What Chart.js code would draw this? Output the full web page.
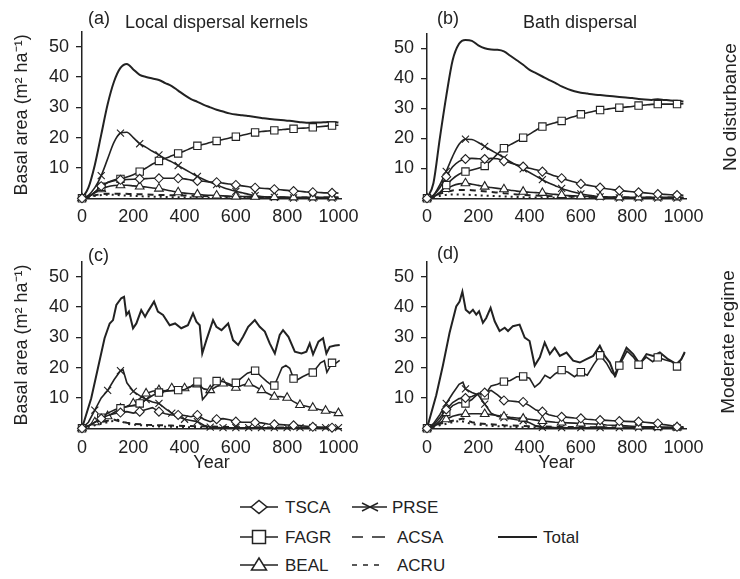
<!DOCTYPE html>
<html><head><meta charset="utf-8">
<script src="https://cdn.jsdelivr.net/npm/chart.js"></script>
<style>
html,body{margin:0;padding:0;background:#fff;}
#wrap{position:relative;width:740px;height:579px;overflow:hidden;font-family:"Liberation Sans",Arial,Helvetica,sans-serif;color:#222;}
canvas{position:absolute;}
.lbl{position:absolute;font-size:18px;line-height:18px;white-space:nowrap;}
.side{position:absolute;font-size:19px;line-height:19px;white-space:nowrap;transform:translate(-50%,-50%) rotate(-90deg);}
</style></head>
<body><div id="wrap">
<canvas id="pa" width="370" height="235" style="left:0;top:0"></canvas>
<canvas id="pb" width="370" height="235" style="left:370px;top:0"></canvas>
<canvas id="pc" width="370" height="245" style="left:0;top:235px"></canvas>
<canvas id="pd" width="370" height="245" style="left:370px;top:235px"></canvas>
<div class="lbl" style="left:88px;top:9px">(a)</div>
<div class="lbl" style="left:125px;top:13px">Local dispersal kernels</div>
<div class="lbl" style="left:437px;top:9px">(b)</div>
<div class="lbl" style="left:523px;top:13px">Bath dispersal</div>
<div class="lbl" style="left:88px;top:246px">(c)</div>
<div class="lbl" style="left:437px;top:244px">(d)</div>
<div class="side" style="left:729px;top:107px">No disturbance</div>
<div class="side" style="left:727px;top:342px">Moderate regime</div>
<svg width="740" height="99" style="position:absolute;left:0;top:480px" font-family="Liberation Sans, Arial, sans-serif" font-size="17" fill="#222">
 <g stroke="#222" stroke-width="1.5" fill="none">
  <line x1="240" y1="27" x2="278" y2="27"/>
  <polygon points="251,27 259,20.5 267,27 259,33.5" fill="#fff"/>
  <line x1="240" y1="57" x2="278" y2="57"/>
  <rect x="252.5" y="50.5" width="13" height="13" fill="#fff"/>
  <line x1="240" y1="85" x2="278" y2="85"/>
  <polygon points="251.5,90 259,78 266.5,90" fill="#fff"/>
  <line x1="352" y1="27" x2="387" y2="27"/>
  <line x1="362" y1="23" x2="378" y2="31"/>
  <line x1="362" y1="31" x2="378" y2="23"/>
  <line x1="352" y1="57" x2="363" y2="57"/>
  <line x1="372" y1="57" x2="385" y2="57"/>
  <line x1="352" y1="85" x2="357" y2="85"/>
  <line x1="363" y1="85" x2="368" y2="85"/>
  <line x1="374" y1="85" x2="379" y2="85"/>
  <line x1="498" y1="57" x2="537" y2="57" stroke-width="2"/>
 </g>
 <text x="285" y="33">TSCA</text>
 <text x="285" y="63">FAGR</text>
 <text x="285" y="91">BEAL</text>
 <text x="392" y="33">PRSE</text>
 <text x="397" y="63">ACSA</text>
 <text x="397" y="91">ACRU</text>
 <text x="543" y="63">Total</text>
</svg>
</div>
<script>
// ---------- DATA ----------
const X_TICKS = [0, 200, 400, 600, 800, 1000];
const Y_TICKS = [10, 20, 30, 40, 50];
const YEARS_25 = [0,25,50,75,100,125,150,175,200,225,250,275,300,325,350,375,400,425,450,475,500,525,550,575,600,625,650,675,700,725,750,775,800,825,850,875,900,925,950,975,1000];
const YEARS_50 = [0,50,100,150,200,250,300,350,400,450,500,550,600,650,700,750,800,850,900,950,1000];

// (a) Local dispersal kernels, no disturbance
const totalA = [0,3.5,11,21,31,38.5,43,44.3,42.5,40.7,40,39.5,39,38,37,35.5,34,32.7,31.8,30.8,30,29.2,28.6,28,27.6,27.4,27.1,26.8,26.5,26.2,26,25.8,25.6,25.4,25.1,24.9,25,25,25.1,25.2,25];
const fagrA = [0,0.5,2,3.8,5.2,6,6.4,7,7.8,8.8,10,11.3,12.3,13.2,14,14.8,15.6,16.5,17.3,17.8,18.4,18.9,19.4,19.9,20.3,20.8,21.3,21.7,22,22.2,22.4,22.6,22.8,22.9,23.1,23.2,23.4,23.6,23.8,24,24.1];
const prseA = [0,1,3.5,7.5,13,18.5,21.5,21.8,20,18,16.8,15.5,14.3,13,12,10.8,9.6,8.4,7.2,6.2,5.3,4.5,3.6,2.9,2.3,1.8,1.3,0.9,0.6,0.4,0.3,0.2,0.2,0.1,0.1,0.1,0.1,0.1,0.1,0.1,0.1];
const tscaA = [0,0.5,2,4,5.2,5.8,6.1,6.2,6.3,6.4,6.5,6.6,6.6,6.6,6.6,6.6,6.4,6,5.7,5.6,5.4,5.3,5,4.7,4.4,4.1,3.8,3.5,3.3,3.2,3,2.8,2.6,2.4,2.3,2.1,2,1.9,1.8,1.8,1.7];
const bealA = [0,0.5,1.8,3,3.8,4.2,4.3,4.3,4.1,3.9,3.7,3.4,3.2,2.8,2.4,2,1.7,1.5,1.3,1.1,1,0.9,0.8,0.7,0.6,0.6,0.5,0.5,0.5,0.4,0.4,0.4,0.4,0.3,0.3,0.3,0.3,0.3,0.3,0.3,0.3];
const acsaA = [0,1,1.5,1.5,1.4,1.3,1.1,1,0.9,0.8,0.7,0.6,0.5,0.5,0.4,0.4,0.3,0.3,0.3,0.3,0.3];
const acruA = [0,0.8,1.2,1,0.8,0.6,0.5,0.4,0.3,0.25,0.2,0.15,0.1,0.1,0.1,0.1,0.1,0.1,0.1,0.1,0.1];

// (b) Bath dispersal, no disturbance
const totalB = [0,5,20,34,46,51.5,52.8,52.5,51,50,49.6,49.5,49,47.5,46,44.5,42.8,41.7,40.6,39.5,38.5,37.3,36.4,35.7,35.2,34.9,34.6,34.4,34.2,34,33.8,33.6,33.4,33.1,32.9,32.8,33,32.8,32.6,32.5,32.3];
const fagrB = [0,0.5,2,4.4,6.5,8,8.9,9.4,10,10.8,12.6,14.8,16.7,17.9,19,20.2,21.4,22.7,23.9,24.6,25.2,25.8,26.6,27.3,28,28.5,29,29.4,29.7,30,30.2,30.4,30.6,30.9,31.1,31.3,31.4,31.4,31.4,31.4,31.5];
const prseB = [0,1,4.5,9,14,18,19.7,19.6,18.6,17.3,16,14.8,13.5,12.2,11,9.8,8.6,7.4,6.2,5.1,4.2,3.3,2.6,2,1.5,1.1,0.8,0.5,0.3,0.2,0.1,0.1,0.1,0.1,0.1,0.1,0.1,0.1,0.1,0.1,0.1];
const tscaB = [0,1,3.5,7.2,10.5,12.3,13.1,13.3,13.2,13.1,13.3,13.2,12.4,11.8,11.2,10.6,10,9.5,8.9,8.2,7.4,6.7,6,5.4,4.8,4.4,4,3.6,3.2,2.9,2.6,2.4,2.2,2,1.8,1.6,1.4,1.3,1.2,1.1,1];
const bealB = [0,0.5,1.8,3.1,4.2,4.8,5,4.7,4.3,3.9,3.6,3.3,3,2.7,2.4,2.2,2,1.9,1.8,1.5,1.3,1.1,0.9,0.8,0.7,0.6,0.5,0.5,0.4,0.4,0.3,0.3,0.3,0.3,0.3,0.3,0.3,0.3,0.3,0.3,0.3];
const acsaB = [0,1.5,2.6,2.8,2.5,2.1,1.7,1.3,1,0.8,0.7,0.6,0.5,0.45,0.4,0.35,0.3,0.3,0.3,0.25,0.2];
const acruB = [0,0.8,1.3,1.2,1,0.8,0.6,0.45,0.3,0.25,0.2,0.15,0.15,0.1,0.1,0.1,0.1,0.1,0.1,0.1,0.1];

// (c) Local dispersal kernels, moderate regime
const totalC_years = [0,36,62,88,108,121,134,153,164,173,183,199,212,231,246,257,281,296,316,342,363,387,413,433,446,459,469,485,511,524,544,570,589,609,628,648,674,693,713,732,752,771,784,805,830,856,875,888,901,922,940,953,966,987,1005];
const totalC = [0,9.9,19.8,29.7,34.6,35.7,40.7,42.9,43.4,37.4,38.5,33,34.6,39,36.8,38.5,41.8,38.5,37.4,34,34.6,33,34,37.9,35.2,34,24.7,29.1,35.7,33.5,32.4,34.6,29.1,27.5,30.2,33.5,35.7,33.5,31.9,28,24.7,30.8,32.4,30.2,25.3,24.7,25.3,28,24.4,28.6,29.7,24.7,26.9,27.3,27.5];
const fagrC_years = [0,30,60,75,100,130,150,180,210,225,250,275,300,330,360,375,400,420,440,450,462,470,485,505,525,545,570,585,600,620,645,675,700,720,735,750,765,780,795,810,825,840,860,880,900,915,930,945,955,965,975,990,1005];
const fagrC = [0,1,2.5,3.5,5,6.2,6.6,7.2,7.8,8.2,9.5,10.8,11.8,12.2,12.5,12.6,12.8,13.5,14.8,15.4,14.5,9.5,11,13.5,15.6,15.5,14.8,14.2,15,16.5,18.2,19,17,15.5,14.5,14.1,17,20,20.7,19.8,16.4,16,17,17.8,18.4,20,21.6,22.3,18.5,20,21.6,21.5,22.4];
const bealC = [0,0.8,2,3,4,5.2,6.5,7.3,8.2,9.8,11.5,12.2,12.6,12.4,13.2,12.9,13.2,13.8,14.5,13,12.6,13.8,14.8,14.2,13.4,14.2,14.8,13.8,12.6,11.5,10.4,10.5,10.1,8.8,7.7,7.3,6.8,6.2,5.8,5.3,5];
const prseC_years = [0,25,50,75,100,125,150,160,175,200,225,250,275,300,325,350,375,400,425,450,475,500,525,550,600,650,700,750,800,850,900,950,1000];
const prseC = [0,2,6,10,12.5,16,19,19.3,15,12.2,10.8,9.5,8.7,8.2,6.5,5,3.8,3,2.6,2.2,1,0.4,0.2,0.2,0.2,0.2,0.2,0.2,0.2,0.2,0.2,0.2,0.2];
const tscaC = [0,0.8,2,3.2,4.2,4.8,5.2,5.5,5,5.5,6.2,6.8,5.5,4.8,4.4,4.4,4.2,3.8,4.4,3,2.2,3,3.2,2.8,2.2,2,2,1.9,1.8,1.4,1.3,1.2,1.1,1,0.9,0.7,0.5,0.4,0.3,0.2,0.2];
const acsaC_years = [0,50,100,120,150,175,200,250,300,350,400,450,500,600,700,800,900,1000];
const acsaC = [0,1.5,2.5,3,2.2,1.8,1.5,1.2,1,0.9,0.8,0.7,0.6,0.4,0.3,0.3,0.2,0.2];
const acruC_years = [0,50,100,140,175,200,300,400,500,600,800,1000];
const acruC = [0,1,2,2.8,1.5,1.2,0.6,0.4,0.2,0.1,0.1,0.1];

// (d) Bath dispersal, moderate regime
const totalD_years = [0,36,62,88,114,127,138,151,166,179,192,203,218,231,248,264,283,303,316,335,361,381,400,420,440,459,479,498,518,544,570,596,622,648,674,693,713,732,752,778,804,830,856,882,908,940,973,992,1005];
const totalD = [0,10.9,20.7,31.5,40.2,41.8,45.1,39.1,38,39.1,37.5,38.6,34.8,36.4,39.7,35.3,32.1,33.2,32.1,33.7,34.2,29.9,28.8,20.7,23.4,28.3,24.5,26.6,23.9,25,22.3,21.7,22.8,23.9,27.2,23.9,21.7,17.4,21.7,26.6,24.5,21.2,24.5,23.9,25,22.8,21.2,22.8,25.2];
const fagrD_years = [0,25,50,75,100,125,150,175,200,225,250,275,300,325,350,375,400,420,440,460,480,500,525,550,575,600,625,650,675,700,720,735,750,780,805,825,855,880,900,930,955,975,1005];
const fagrD = [0,0.5,2.5,5.4,7.5,8.5,8.2,9.5,11.5,10.9,14,14.5,15.4,15.8,17,17.1,16.5,13.6,15,17.5,16.5,18,19.2,18.5,17,18.5,17.5,21,24.1,21.5,18.5,17.2,20.7,25.5,23.5,21,23.5,22,23.4,22.5,22,20.4,24.8];
const tscaD = [0,1,3.5,6.2,8.5,9.8,10,10.5,11.5,11.8,12.5,11,9.2,9,8.8,8.7,7.5,6,5.5,4.5,4,3.8,3.6,3.4,3.3,3,2.8,2.7,2.6,2.5,2.4,2.3,2.2,2.2,2,1.8,1.6,1.2,0.9,0.5,0.5];
const prseD_years = [0,25,50,75,100,125,140,150,175,200,225,250,275,300,325,350,375,400,425,450,525,600,675,750,825,900,975,1000];
const prseD = [0,1.5,4.5,8.2,11.5,14.5,15.2,13,11.8,11,8,5,4,3.5,3.2,2.8,2.5,1.8,0.8,0.3,0.2,0.2,0.2,0.2,0.2,0.2,0.2,0.2];
const bealD = [0,0.5,1.8,3,4,4.5,4.7,4.8,4.8,4.7,4.5,4.2,3.9,3.6,3.4,3.2,3,2.7,2.4,2.2,2,1.9,1.8,1.7,1.6,1.5,1.4,1.3,1.1,1,0.9,0.8,0.7,0.6,0.5,0.5,0.4,0.4,0.3,0.3,0.3];
const acsaD_years = [0,50,100,140,175,200,300,400,500,700,1000];
const acsaD = [0,1.5,2.5,3.2,2,1.6,1,0.7,0.5,0.3,0.2];
const acruD_years = [0,50,100,130,175,250,350,500,1000];
const acruD = [0,1,2,2.5,1.4,0.8,0.4,0.2,0.1];

// ---------- STYLE ----------
const INK = '#222';
Chart.defaults.font.family = '"Liberation Sans", Arial, Helvetica, sans-serif';
Chart.defaults.font.size = 18;
Chart.defaults.color = INK;
const MARK = {
  TSCA: {pointStyle: 'rectRot', r: 4.5},
  FAGR: {pointStyle: 'rect', r: 5.2},
  BEAL: {pointStyle: 'triangle', r: 5},
  PRSE: {pointStyle: 'crossRot', r: 5}
};
function xy(years, vals) { return years.map((x, i) => ({x: x, y: vals[i]})); }
function marked(label, years, vals, every, smooth) {
  const m = MARK[label];
  return {
    label, data: xy(years, vals), borderColor: INK, borderWidth: 1.6,
    pointStyle: m.pointStyle,
    pointRadius: c => (c.raw && c.raw.x % every === 0) ? m.r : 0,
    pointHoverRadius: 0,
    pointBackgroundColor: '#fff', pointBorderColor: INK, pointBorderWidth: 1.1,
    cubicInterpolationMode: smooth ? 'monotone' : 'default', tension: 0, clip: false
  };
}
function plain(label, years, vals, dash, width, smooth) {
  return {
    label, data: xy(years, vals), borderColor: INK, borderWidth: width,
    borderDash: dash, pointRadius: 0, pointHoverRadius: 0,
    cubicInterpolationMode: smooth ? 'monotone' : 'default', tension: 0, clip: false
  };
}
function panel(id, datasets, o) {
  new Chart(document.getElementById(id), {
    type: 'line',
    data: {datasets},
    options: {
      responsive: false, animation: false, devicePixelRatio: 1,
      layout: {padding: {left: 0, right: o.right, top: o.top, bottom: 0}},
      plugins: {legend: {display: false}, tooltip: {enabled: false}},
      scales: {
        x: {
          type: 'linear', min: 0, max: 1010,
          afterBuildTicks: s => { s.ticks = X_TICKS.map(v => ({value: v})); },
          afterFit: s => { s.height = o.xh; },
          grid: {display: false, drawTicks: false},
          border: {display: true, color: INK, width: 1.5},
          ticks: {padding: o.xpad, autoSkip: false, maxRotation: 0, callback: v => String(v)},
          title: {display: o.year, text: 'Year', padding: {top: 0, bottom: 6}}
        },
        y: {
          min: 0, max: 55,
          afterBuildTicks: s => { s.ticks = Y_TICKS.map(v => ({value: v})); },
          afterFit: s => { s.width = o.yw; },
          grid: {drawOnChartArea: false, drawTicks: true, tickLength: 6, color: INK, lineWidth: 1.3},
          border: {display: true, color: INK, width: 1.5},
          ticks: {padding: 7, callback: v => String(v)},
          title: {display: o.ytitle, text: 'Basal area (m² ha⁻¹)', padding: {top: 11, bottom: 0}}
        }
      }
    }
  });
}

panel('pa', [
  marked('TSCA', YEARS_25, tscaA, 75, true),
  marked('FAGR', YEARS_25, fagrA, 75, true),
  marked('BEAL', YEARS_25, bealA, 75, true),
  marked('PRSE', YEARS_25, prseA, 75, true),
  plain('ACSA', YEARS_50, acsaA, [6, 5], 2, true),
  plain('ACRU', YEARS_50, acruA, [2, 4], 2, true),
  plain('Total', YEARS_25, totalA, [], 2, true)
], {right: 29, top: 31.5, xh: 36.7, yw: 82, xpad: 8, year: false, ytitle: true});

panel('pb', [
  marked('TSCA', YEARS_25, tscaB, 75, true),
  marked('FAGR', YEARS_25, fagrB, 75, true),
  marked('BEAL', YEARS_25, bealB, 75, true),
  marked('PRSE', YEARS_25, prseB, 75, true),
  plain('ACSA', YEARS_50, acsaB, [6, 5], 2, true),
  plain('ACRU', YEARS_50, acruB, [2, 4], 2, true),
  plain('Total', YEARS_25, totalB, [], 2, true)
], {right: 54, top: 33.3, xh: 36.7, yw: 57, xpad: 8, year: false, ytitle: false});

panel('pc', [
  marked('TSCA', YEARS_25, tscaC, 75, false),
  marked('FAGR', fagrC_years, fagrC, 75, false),
  marked('BEAL', YEARS_25, bealC, 50, false),
  marked('PRSE', prseC_years, prseC, 50, false),
  plain('ACSA', acsaC_years, acsaC, [6, 5], 2, false),
  plain('ACRU', acruC_years, acruC, [2, 4], 2, false),
  plain('Total', totalC_years, totalC, [], 2, false)
], {right: 29, top: 26.6, xh: 51.7, yw: 82, xpad: 9, year: true, ytitle: true});

panel('pd', [
  marked('TSCA', YEARS_25, tscaD, 75, false),
  marked('FAGR', fagrD_years, fagrD, 75, false),
  marked('BEAL', YEARS_25, bealD, 75, false),
  marked('PRSE', prseD_years, prseD, 75, false),
  plain('ACSA', acsaD_years, acsaD, [6, 5], 2, false),
  plain('ACRU', acruD_years, acruD, [2, 4], 2, false),
  plain('Total', totalD_years, totalD, [], 2, false)
], {right: 54, top: 26.6, xh: 51.7, yw: 57, xpad: 9, year: true, ytitle: false});
</script>
</body></html>
